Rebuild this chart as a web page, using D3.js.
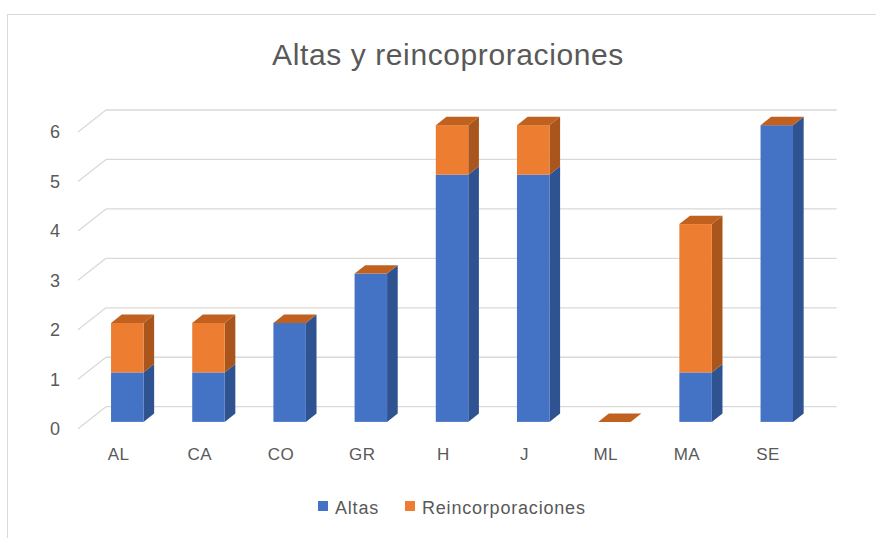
<!DOCTYPE html>
<html>
<head>
<meta charset="utf-8">
<script src="https://cdn.jsdelivr.net/npm/d3@7"></script>
<style>
  html, body { margin: 0; padding: 0; background: #fff; }
  svg { display: block; }
</style>
</head>
<body>
<svg id="chart" width="876" height="538"></svg>
<script>
// datos
const categories = ["AL", "CA", "CO", "GR", "H", "J", "ML", "MA", "SE"];
const altas = [1, 1, 2, 3, 5, 5, 0, 1, 6];
const reincorporaciones = [1, 1, 0, 0, 1, 1, 0, 3, 0];
const seriesNames = ["Altas", "Reincorporaciones"];
const yTicks = [0, 1, 2, 3, 4, 5, 6];

const width = 876, height = 538;
const fontFam = "'Liberation Sans', Arial, sans-serif";
const textColor = "#595959";

// pared del fondo
const backLeft = 106, backRight = 836.7;
const backBottom = 406.7, backTop = 110;

// profundidad (fondo -> frente)
const depthX = -28, depthY = 22;
const f0 = 0.31, f1 = 0.69;   // profundidad de las barras

const colors = {
  Altas: { front: "#4472c4", side: "#2f5290", top: "#3a62a8" },
  Reincorporaciones: { front: "#ed7d31", side: "#a9551c", top: "#c0611f" }
};

const svg = d3.select("#chart");

// borde del gráfico
svg.append("rect")
    .attr("x", 7.5).attr("y", 14.5)
    .attr("width", width).attr("height", height)
    .attr("fill", "#fff")
    .attr("stroke", "#d9d9d9");

const x = d3.scaleBand()
    .domain(categories)
    .range([backLeft, backRight])
    .paddingInner(0.6)
    .paddingOuter(0.3);

const y = d3.scaleLinear()
    .domain([0, 6])
    .range([backBottom, backTop]);

// líneas de cuadrícula
const grid = svg.append("g").attr("stroke", "#d9d9d9").attr("stroke-width", 1.3);
grid.selectAll("line.back")
  .data(yTicks)
  .join("line")
    .attr("class", "back")
    .attr("x1", backLeft).attr("x2", backRight)
    .attr("y1", d => y(d)).attr("y2", d => y(d));
grid.selectAll("line.side")
  .data(yTicks)
  .join("line")
    .attr("class", "side")
    .attr("x1", backLeft + depthX).attr("x2", backLeft)
    .attr("y1", d => y(d) + depthY).attr("y2", d => y(d));

// eje y
svg.append("g")
    .attr("transform", `translate(${backLeft + depthX},${depthY})`)
    .call(d3.axisLeft(y).tickValues(yTicks).tickFormat(d3.format("d")).tickSize(0).tickPadding(18))
    .call(g => g.select(".domain").remove())
    .call(g => g.selectAll("text")
        .attr("fill", textColor)
        .style("font", `18px ${fontFam}`));

// eje x
svg.append("g")
    .attr("transform", `translate(${depthX},${backBottom + depthY})`)
    .call(d3.axisBottom(x).tickSize(0).tickPadding(19))
    .call(g => g.select(".domain").remove())
    .call(g => g.selectAll("text")
        .attr("fill", textColor)
        .style("font", `17px ${fontFam}`)
        .style("letter-spacing", "0.5px"));

// barras 3D apiladas
const data = categories.map((c, i) => ({ cat: c, Altas: altas[i], Reincorporaciones: reincorporaciones[i] }));
const stack = d3.stack().keys(seriesNames)(data);

const w = x.bandwidth();
const bdx = depthX * (f0 - f1), bdy = depthY * (f0 - f1);
const pts = a => a.map(p => p.join(",")).join(" ");

const bars = svg.append("g");
data.forEach((d, i) => {
  const xf = x(d.cat) + depthX * f1;
  stack.forEach(s => {
    const [v0, v1] = s[i];
    const c = colors[s.key];
    if (v1 > v0) {
      const yb = y(v0) + depthY * f1, yt = y(v1) + depthY * f1;
      bars.append("polygon")
          .attr("points", pts([[xf + w, yt], [xf + w, yb], [xf + w + bdx, yb + bdy], [xf + w + bdx, yt + bdy]]))
          .attr("fill", c.side);
      bars.append("rect")
          .attr("x", xf).attr("y", yt)
          .attr("width", w).attr("height", yb - yt)
          .attr("fill", c.front);
    }
  });
  // cara superior (de la última serie)
  const last = stack[stack.length - 1];
  const yt = y(last[i][1]) + depthY * f1;
  bars.append("polygon")
      .attr("points", pts([[xf, yt], [xf + w, yt], [xf + w + bdx, yt + bdy], [xf + bdx, yt + bdy]]))
      .attr("fill", colors[last.key].top);
});

// título
svg.append("text")
    .attr("x", 448).attr("y", 65)
    .attr("text-anchor", "middle")
    .attr("fill", textColor)
    .style("font", `30px ${fontFam}`)
    .style("letter-spacing", "0.6px")
    .text("Altas y reincoproraciones");

// leyenda
const legendX = [318, 405];
const legend = svg.append("g");
seriesNames.forEach((name, i) => {
  legend.append("rect")
      .attr("x", legendX[i]).attr("y", 501)
      .attr("width", 10).attr("height", 10)
      .attr("fill", colors[name].front);
  legend.append("text")
      .attr("x", legendX[i] + 17).attr("y", 513.5)
      .attr("fill", textColor)
      .style("font", `18px ${fontFam}`)
      .style("letter-spacing", "0.8px")
      .text(name);
});
</script>
</body>
</html>
